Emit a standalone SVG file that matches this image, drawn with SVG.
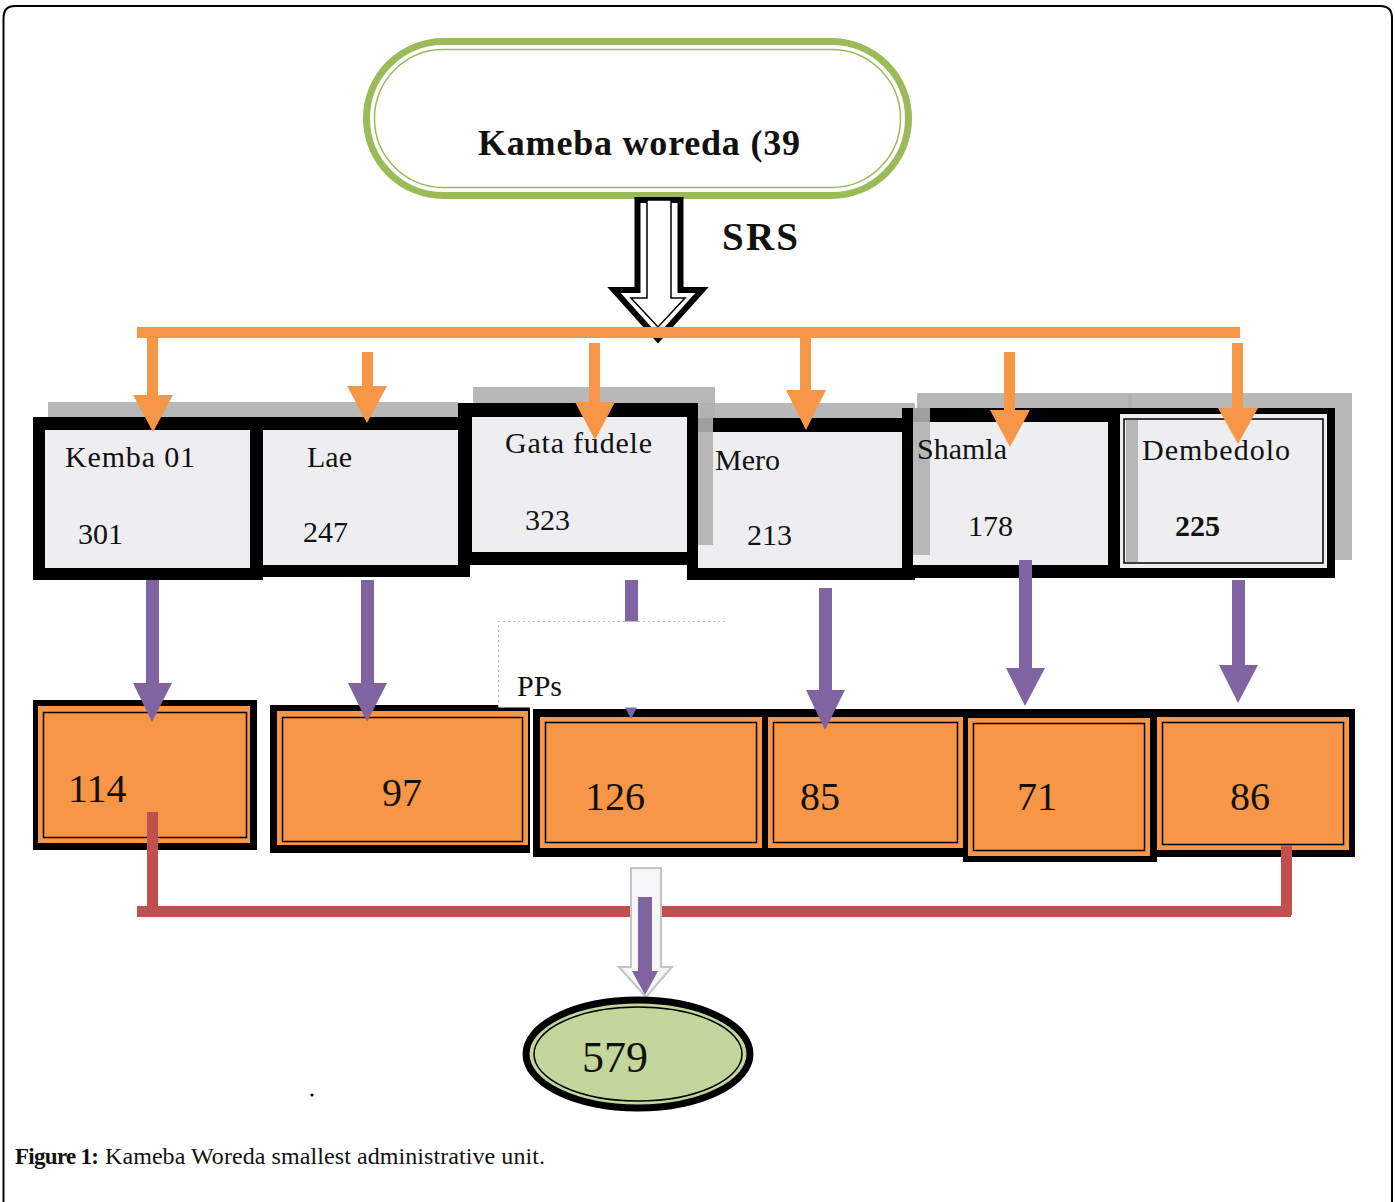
<svg xmlns="http://www.w3.org/2000/svg" width="1395" height="1202" viewBox="0 0 1395 1202">
<defs>
<style>
.serif{font-family:"Liberation Serif","Times New Roman",serif;fill:#111}
.lbl{font-size:30px}
.num2{font-size:40px}
.blk{fill:#000}
.lite{fill:#EEEEF1}
.shd{fill:#B0B0B0;opacity:0.9}
.org{fill:#F79646}
.thin{fill:none;stroke:#000;stroke-width:1.5}
.oarr{fill:#F79646}
.parr{fill:#8064A2}
</style>
</defs>
<rect width="1395" height="1202" fill="#fff"/>
<path d="M3.5,1202 V18 Q3.5,6 15,6 H1380 Q1392,6 1392,18 V1202" fill="none" stroke="#000" stroke-width="2"/>

<g id="root">
<rect x="366.5" y="41.5" width="542" height="154" rx="77" fill="#fff" stroke="#9BBB59" stroke-width="7"/>
<rect x="374.5" y="49.5" width="526" height="138" rx="69" fill="none" stroke="#9BBB59" stroke-width="1.5"/>
<text class="serif" x="478" y="155" font-size="36" font-weight="bold" textLength="322">Kameba woreda (39</text>
</g>

<g id="srs-arrow">
<polygon points="637.5,200 680.5,200 680.5,290 702,290 658,339 614,290 637.5,290" fill="#fff" stroke="#000" stroke-width="6"/>
<polygon points="647,200 671,200 671,298 685,298 658,327 631,298 647,298" fill="#fff" stroke="#000" stroke-width="1.5"/>
<text class="serif" x="722" y="250" font-size="39" font-weight="bold" textLength="76">SRS</text>
</g>

<g id="shadows">
<rect class="shd" x="48" y="402" width="410" height="160"/>
<rect class="shd" x="473" y="387" width="242" height="150"/>
<rect class="shd" x="700" y="403" width="215" height="150"/>
<rect class="shd" x="917" y="393" width="215" height="160"/>
<rect class="shd" x="1128" y="393" width="224" height="167"/>
</g>

<g id="kemba01">
<rect class="blk" x="33" y="417" width="230" height="163"/>
<rect class="lite" x="45" y="430" width="205" height="138"/>
<text class="serif lbl" x="65" y="467" textLength="130">Kemba 01</text>
<text class="serif lbl" x="78" y="544">301</text>
</g>
<g id="lae">
<rect class="blk" x="250" y="417" width="220" height="160"/>
<rect class="lite" x="263" y="430" width="195" height="135"/>
<text class="serif lbl" x="307" y="467">Lae</text>
<text class="serif lbl" x="303" y="542">247</text>
</g>
<g id="gatafudele">
<rect class="blk" x="458" y="403" width="240" height="162"/>
<rect class="lite" x="472" y="417" width="215" height="135"/>
<text class="serif lbl" x="505" y="453" textLength="147">Gata fudele</text>
<text class="serif lbl" x="525" y="530">323</text>
</g>
<g id="mero">
<rect class="blk" x="687" y="418" width="228" height="162"/>
<rect class="lite" x="698" y="432" width="204" height="136"/>
<rect class="shd" x="698" y="418" width="15" height="127"/>
<text class="serif lbl" x="715" y="470">Mero</text>
<text class="serif lbl" x="747" y="545">213</text>
</g>
<g id="shamla">
<rect class="blk" x="902" y="408" width="220" height="170"/>
<rect class="lite" x="913" y="422" width="195" height="143"/>
<rect class="shd" x="913" y="408" width="17" height="147"/>
<text class="serif lbl" x="917" y="459">Shamla</text>
<text class="serif lbl" x="968" y="536">178</text>
</g>
<g id="dembedolo">
<rect class="blk" x="1115" y="408" width="220" height="170"/>
<rect class="lite" x="1120" y="414" width="207" height="154"/>
<rect class="thin" x="1124" y="419" width="199" height="144"/>
<rect class="shd" x="1126" y="420" width="12" height="142"/>
<text class="serif lbl" x="1142" y="460" textLength="148">Dembedolo</text>
<text class="serif lbl" x="1175" y="536" font-weight="bold">225</text>
</g>

<g id="pp114">
<rect class="blk" x="33" y="700" width="224" height="150"/>
<rect class="org" x="38" y="706" width="212" height="137"/>
<rect class="thin" x="43.5" y="712.5" width="203" height="125"/>
<text class="serif num2" x="68" y="802">114</text>
</g>
<g id="pp97">
<rect class="blk" x="270" y="705" width="260" height="148"/>
<rect class="org" x="277" y="711" width="251" height="134"/>
<rect class="thin" x="282.5" y="717.5" width="240" height="124"/>
<text class="serif num2" x="382" y="806">97</text>
</g>
<rect class="blk" x="533" y="709" width="822" height="148"/>
<g id="pp126">
<rect class="org" x="540" y="717" width="222" height="131"/>
<rect class="thin" x="545.5" y="722.5" width="211" height="120"/>
<text class="serif num2" x="585" y="810">126</text>
</g>
<g id="pp85">
<rect class="org" x="768" y="717" width="195" height="131"/>
<rect class="thin" x="773.5" y="722.5" width="184" height="120"/>
<text class="serif num2" x="800" y="810">85</text>
</g>
<g id="pp71">
<rect class="blk" x="963" y="712" width="194" height="150"/>
<rect class="org" x="968" y="718" width="182" height="138"/>
<rect class="thin" x="973.5" y="723.5" width="171" height="127"/>
<text class="serif num2" x="1017" y="810">71</text>
</g>
<g id="pp86">
<rect class="org" x="1157" y="717" width="192" height="133"/>
<rect class="thin" x="1162.5" y="722.5" width="181" height="122"/>
<text class="serif num2" x="1230" y="810">86</text>
</g>

<g id="connectors">
<rect class="oarr" x="137" y="327" width="1103" height="11"/>
<rect class="oarr" x="147" y="332" width="11" height="65"/>
<polygon class="oarr" points="133,395 173,395 153,432"/>
<rect class="oarr" x="362" y="352" width="11" height="36"/>
<polygon class="oarr" points="347,386 387,386 367,423"/>
<rect class="oarr" x="589" y="343" width="11" height="61"/>
<polygon class="oarr" points="575,402 615,402 595,440"/>
<rect class="oarr" x="800" y="338" width="11" height="54"/>
<polygon class="oarr" points="786,390 826,390 806,430"/>
<rect class="oarr" x="1004" y="352" width="11" height="60"/>
<polygon class="oarr" points="990,410 1030,410 1010,447"/>
<rect class="oarr" x="1232" y="343" width="11" height="69"/>
<polygon class="oarr" points="1218,408 1258,408 1238,444"/>

<rect class="parr" x="146" y="580" width="13" height="105"/>
<polygon class="parr" points="133,683 172,683 152,722"/>
<rect class="parr" x="361" y="580" width="13" height="105"/>
<polygon class="parr" points="348,683 387,683 367,722"/>
<rect class="parr" x="625" y="580" width="13" height="105"/>
<polygon class="parr" points="611,680 651,680 631,719"/>
<rect class="parr" x="819" y="588" width="13" height="105"/>
<polygon class="parr" points="806,690 845,690 825,730"/>
<rect class="parr" x="1019" y="560" width="13" height="110"/>
<polygon class="parr" points="1006,668 1045,668 1025,706"/>
<rect class="parr" x="1232" y="580" width="13" height="87"/>
<polygon class="parr" points="1219,665 1258,665 1238,703"/>

<rect x="137" y="906" width="1154" height="11" fill="#C0504D"/>
<rect x="147" y="812" width="11" height="100" fill="#C0504D"/>
<rect x="1281" y="845" width="11" height="70" fill="#C0504D"/>

<polygon points="631,868 661,868 661,967 672,967 646,997 619,967 631,967" fill="#F5F5F8" stroke="#C4C4C8" stroke-width="2"/>
<rect class="parr" x="638" y="897" width="14" height="76"/>
<polygon class="parr" points="632,971 658,971 645,995"/>
</g>

<g id="pps">
<rect x="498.5" y="621.5" width="229" height="86" fill="#fff"/>
<path d="M498.5,707 V621.5 H727" fill="none" stroke="#BDBDC4" stroke-width="1" stroke-dasharray="2,3"/>
<text class="serif" x="517" y="696" font-size="30">PPs</text>
</g>

<g id="total579">
<ellipse cx="638" cy="1054" rx="112" ry="54" fill="#C3D69B" stroke="#000" stroke-width="7"/>
<ellipse cx="638" cy="1054" rx="104" ry="47" fill="none" stroke="#000" stroke-width="1.5"/>
<text class="serif" x="582" y="1072" font-size="44">579</text>
</g>

<circle cx="312" cy="1095" r="1.6" fill="#000"/>

<g id="caption">
<text class="serif" x="15" y="1164" font-size="23" font-weight="bold" textLength="84">Figure 1:</text>
<text class="serif" x="105" y="1164" font-size="24" textLength="440">Kameba Woreda smallest administrative unit.</text>
</g>
</svg>
